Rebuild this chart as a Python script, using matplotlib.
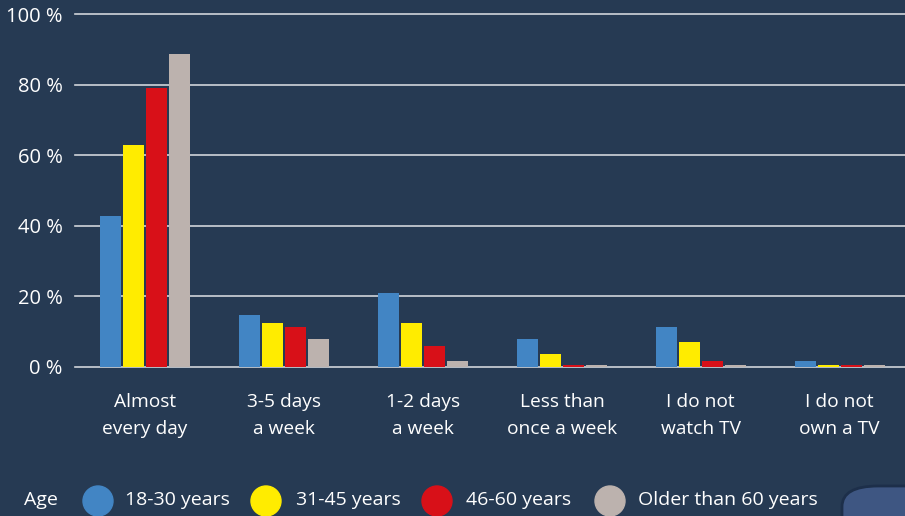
import numpy as np
import matplotlib
matplotlib.use("Agg")
import matplotlib.pyplot as plt
from matplotlib.patches import Ellipse, FancyBboxPatch

categories = ["Almost\nevery day", "3-5 days\na week", "1-2 days\na week",
              "Less than\nonce a week", "I do not\nwatch TV", "I do not\nown a TV"]
groups = ["18-30 years", "31-45 years", "46-60 years", "Older than 60 years"]
v_18_30 = [42.8, 14.7, 21.0, 7.9, 11.3, 1.7]
v_31_45 = [62.9, 12.5, 12.5, 3.7, 7.1, 0.6]
v_46_60 = [79.0, 11.3, 6.0, 0.5, 1.7, 0.5]
v_60plus = [88.7, 7.9, 1.7, 0.5, 0.5, 0.5]
yticks = [0, 20, 40, 60, 80, 100]

colors = ["#4285c4", "#ffec00", "#d81018", "#bcb2ae"]
bg = "#263a53"
plt.rcParams['font.family'] = ['Open Sans', 'DejaVu Sans']

W, H = 905, 516
fig = plt.figure(figsize=(W / 100, H / 100), dpi=100, facecolor=bg)
ax = fig.add_axes([75 / W, 1 - 367 / H, 1 - 75 / W, (367 - 14) / H])
ax.set_facecolor(bg)

x = np.arange(len(categories))
pitch = 0.165
width = 0.151
series = [v_18_30, v_31_45, v_46_60, v_60plus]
for i, vals in enumerate(series):
    ax.bar(x + (i - 1.5) * pitch, vals, width, color=colors[i], zorder=3)

for t in yticks:
    ax.axhline(t, color="#d0d4da", lw=1.2, zorder=2, clip_on=False)

ax.set_ylim(0, 100)
ax.set_xlim(-0.505, 5.47)
ax.set_yticks(yticks)
ax.set_yticklabels([f"{t} %" for t in yticks], color="white", fontsize=14.5)
ax.set_xticks(x)
ax.set_xticklabels(categories, color="white", fontsize=13.8, linespacing=1.65)
ax.tick_params(axis="both", length=0)
ax.tick_params(axis="y", pad=9)
ax.tick_params(axis="x", pad=19)
for s in ax.spines.values():
    s.set_visible(False)

# legend row
ly = 1 - 500 / H
fig.text(24 / W, ly, "Age", color="white", fontsize=14, va="center")
circ_x = [98, 266, 437, 610]
lab_x = [125, 296, 466, 638]
for cx, lx, c, g in zip(circ_x, lab_x, colors, groups):
    fig.patches.append(Ellipse((cx / W, 1 - 501 / H), 30 / W, 30 / H,
                               transform=fig.transFigure, color=c))
    fig.text(lx / W, ly, g, color="white", fontsize=14, va="center")

# decorative corner shape
fig.patches.append(FancyBboxPatch((842 / W, -40 / H), 120 / W, 70 / H,
                                  boxstyle="round,pad=0,rounding_size=0.04",
                                  transform=fig.transFigure,
                                  facecolor="#3e5682", edgecolor="#1d2f4a", lw=2))

fig.savefig("out.png", dpi=100, facecolor=bg)
